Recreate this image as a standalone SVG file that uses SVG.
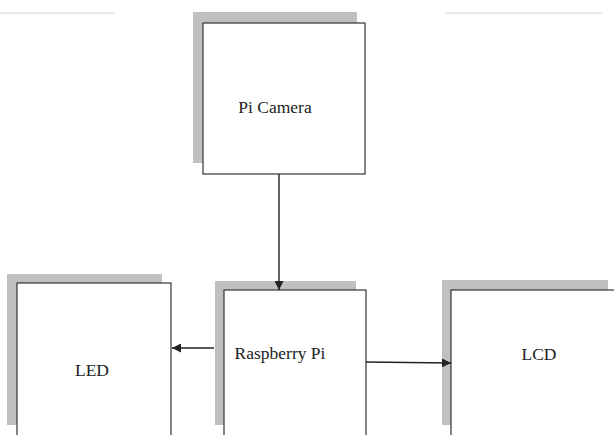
<svg xmlns="http://www.w3.org/2000/svg" width="614" height="435" viewBox="0 0 614 435">
<defs>
<marker id="ah" viewBox="0 0 10 10" refX="10" refY="5" markerWidth="9" markerHeight="9" markerUnits="userSpaceOnUse" orient="auto">
<path d="M0,0 L10,5 L0,10 Z" fill="#222"/>
</marker>
</defs>
<style>
.sh{fill:#c0c0c0;stroke:none}
.bx{fill:#fff;stroke:#333;stroke-width:1.2}
.lb{font-family:"Liberation Serif","Times New Roman",serif;font-size:17.5px;fill:#222;text-anchor:middle}
.cn{stroke:#222;stroke-width:1.4;fill:none;marker-end:url(#ah)}
.rule{stroke:#e2e2e2;stroke-width:1.5}
</style>
<rect width="614" height="435" fill="#fff"/>
<line class="rule" x1="0" y1="13" x2="115" y2="13"/>
<line class="rule" x1="445" y1="13" x2="602" y2="13"/>
<g id="pi-camera">
<rect class="sh" x="193" y="12" width="164" height="151"/>
<rect class="bx" x="203" y="23" width="162" height="151"/>
<text class="lb" x="275" y="113">Pi Camera</text>
</g>
<g id="led">
<rect class="sh" x="7" y="274" width="155" height="151"/>
<rect class="bx" x="17" y="283" width="154" height="160"/>
<text class="lb" x="92" y="376">LED</text>
</g>
<g id="raspberry-pi">
<rect class="sh" x="215" y="281" width="141" height="144"/>
<rect class="bx" x="224" y="290" width="142" height="160"/>
<text class="lb" x="280" y="359">Raspberry Pi</text>
</g>
<g id="lcd">
<rect class="sh" x="442" y="280" width="166" height="145"/>
<rect class="bx" x="451" y="290" width="175" height="160"/>
<text class="lb" x="539" y="360">LCD</text>
</g>
<g id="connectors">
<line class="cn" x1="279" y1="174" x2="279" y2="290"/>
<line class="cn" x1="214" y1="348" x2="172" y2="348"/>
<line class="cn" x1="366" y1="362" x2="451" y2="363"/>
</g>
</svg>
